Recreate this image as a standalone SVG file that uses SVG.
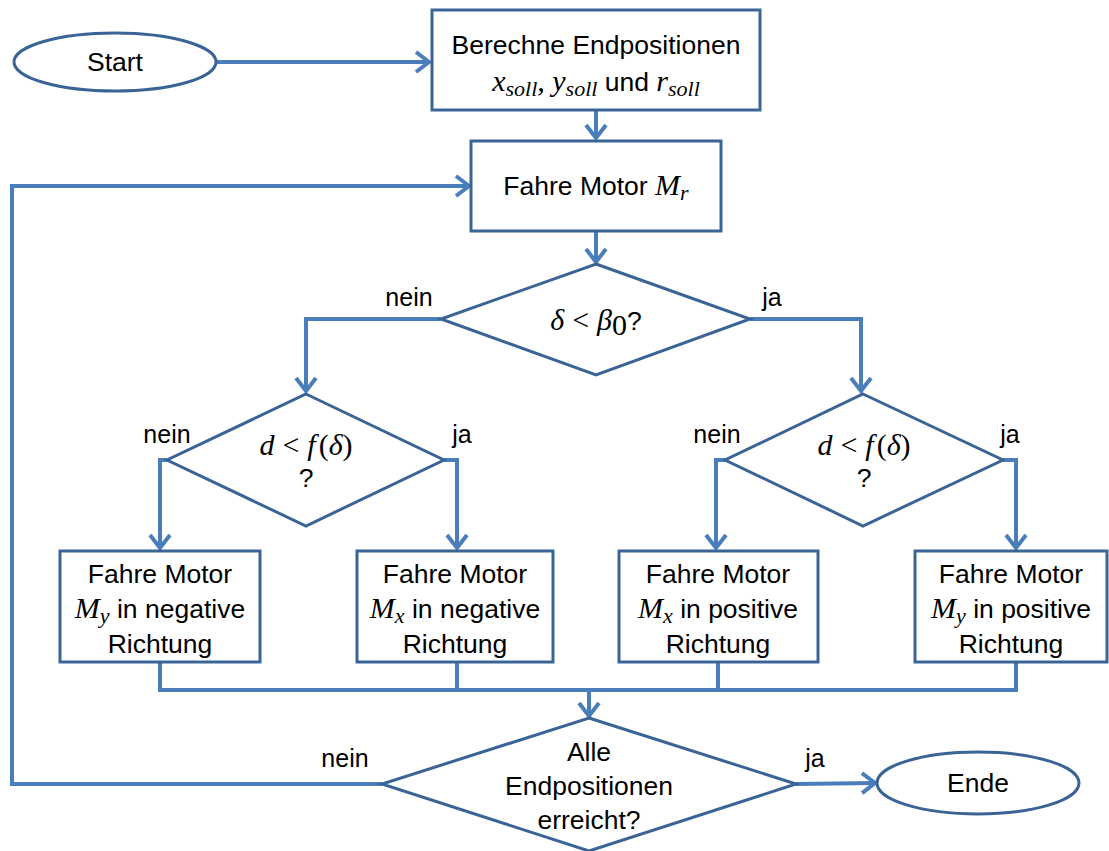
<svg xmlns="http://www.w3.org/2000/svg" width="1109" height="851" viewBox="0 0 1109 851">
<style>
.shape{fill:#fff;stroke:#3B6496;stroke-width:3}
.conn{fill:none;stroke:#4A7EBB;stroke-width:4}
.arr{marker-end:url(#ah)}
.t{font-family:"Liberation Sans",Arial,sans-serif;font-size:26.5px;fill:#000}
.lbl{font-family:"Liberation Sans",Arial,sans-serif;font-size:25px;fill:#000}
.m{font-family:"Liberation Serif","DejaVu Serif",serif;font-style:italic;font-size:30px}
.s{font-family:"Liberation Serif","DejaVu Serif",serif;font-style:italic;font-size:22px}
.n{font-family:"Liberation Serif","DejaVu Serif",serif;font-style:normal;font-size:30px}
</style>
<defs>
<marker id="ah" markerUnits="userSpaceOnUse" markerWidth="30" markerHeight="30" viewBox="-15 -15 30 30" refX="0" refY="0" orient="auto">
<path d="M-13,-10 L0,0 L-13,10" fill="none" stroke="#4A7EBB" stroke-width="4" stroke-linejoin="miter"/>
</marker>
</defs>

<g id="connectors">
<path class="conn arr" d="M216,62 H429"/>
<path class="conn arr" d="M596,110 V138"/>
<path class="conn arr" d="M596,231 V262"/>
<path class="conn arr" d="M441,319 H306 V391"/>
<path class="conn arr" d="M750,319 H861 V391"/>
<path class="conn arr" d="M167,460 H160 V548"/>
<path class="conn arr" d="M444,460 H457 V548"/>
<path class="conn arr" d="M725,460 H716 V548"/>
<path class="conn arr" d="M1003,460 H1016 V548"/>
<path class="conn" d="M160,662 V690 M457,662 V690 M718,662 V690 M1016,662 V690 M158,690 H1018"/>
<path class="conn arr" d="M589,690 V716"/>
<path class="conn arr" d="M796,784 L875,783"/>
<path class="conn arr" d="M382,784 H12 V186 H469"/>
</g>

<g id="start">
<ellipse class="shape" cx="115" cy="62" rx="101" ry="29"/>
<text class="t" x="115" y="71" text-anchor="middle">Start</text>
</g>

<g id="berechne">
<rect class="shape" x="432" y="10" width="328" height="100"/>
<text class="t" x="596" y="54" text-anchor="middle">Berechne Endpositionen</text>
<text class="t" x="596" y="91" text-anchor="middle"><tspan class="m">x</tspan><tspan class="s" dy="5">soll</tspan><tspan class="m" dy="-5">, y</tspan><tspan class="s" dy="5">soll</tspan><tspan dy="-5"> und </tspan><tspan class="m">r</tspan><tspan class="s" dy="5">soll</tspan></text>
</g>

<g id="fahre-mr">
<rect class="shape" x="471" y="141" width="250" height="90"/>
<text class="t" x="596" y="195" text-anchor="middle">Fahre Motor <tspan class="m">M</tspan><tspan class="s" dy="5">r</tspan></text>
</g>

<g id="d1">
<polygon class="shape" points="596,264 750,319 596,375 441,319"/>
<text class="t" x="596" y="330" text-anchor="middle"><tspan class="m">δ</tspan><tspan class="n" dx="8">&lt;</tspan><tspan class="m" dx="8">β</tspan><tspan class="n" font-size="21" dy="5">0</tspan><tspan dy="-5">?</tspan></text>
<text class="lbl" x="409" y="306" text-anchor="middle">nein</text>
<text class="lbl" x="772" y="306" text-anchor="middle">ja</text>
</g>

<g id="d2">
<polygon class="shape" points="306,394 444,460 306,526 167,460"/>
<text class="t" x="306" y="455" text-anchor="middle"><tspan class="m">d</tspan><tspan class="n" dx="8">&lt;</tspan><tspan class="m" dx="8">f</tspan><tspan class="n" dx="3">(</tspan><tspan class="m">δ</tspan><tspan class="n">)</tspan></text>
<text class="t" x="306" y="487" text-anchor="middle">?</text>
<text class="lbl" x="167" y="443" text-anchor="middle">nein</text>
<text class="lbl" x="462" y="443" text-anchor="middle">ja</text>
</g>

<g id="d3">
<polygon class="shape" points="863,394 1003,460 863,526 725,460"/>
<text class="t" x="864" y="455" text-anchor="middle"><tspan class="m">d</tspan><tspan class="n" dx="8">&lt;</tspan><tspan class="m" dx="8">f</tspan><tspan class="n" dx="3">(</tspan><tspan class="m">δ</tspan><tspan class="n">)</tspan></text>
<text class="t" x="864" y="487" text-anchor="middle">?</text>
<text class="lbl" x="717" y="443" text-anchor="middle">nein</text>
<text class="lbl" x="1010" y="443" text-anchor="middle">ja</text>
</g>

<g id="box-my-neg">
<rect class="shape" x="60" y="551" width="200" height="111"/>
<text class="t" x="160" y="583" text-anchor="middle">Fahre Motor</text>
<text class="t" x="160" y="618" text-anchor="middle"><tspan class="m">M</tspan><tspan class="s" dy="5">y</tspan><tspan dy="-5"> in negative</tspan></text>
<text class="t" x="160" y="653" text-anchor="middle">Richtung</text>
</g>

<g id="box-mx-neg">
<rect class="shape" x="357" y="551" width="196" height="111"/>
<text class="t" x="455" y="583" text-anchor="middle">Fahre Motor</text>
<text class="t" x="455" y="618" text-anchor="middle"><tspan class="m">M</tspan><tspan class="s" dy="5">x</tspan><tspan dy="-5"> in negative</tspan></text>
<text class="t" x="455" y="653" text-anchor="middle">Richtung</text>
</g>

<g id="box-mx-pos">
<rect class="shape" x="619" y="551" width="199" height="111"/>
<text class="t" x="718" y="583" text-anchor="middle">Fahre Motor</text>
<text class="t" x="718" y="618" text-anchor="middle"><tspan class="m">M</tspan><tspan class="s" dy="5">x</tspan><tspan dy="-5"> in positive</tspan></text>
<text class="t" x="718" y="653" text-anchor="middle">Richtung</text>
</g>

<g id="box-my-pos">
<rect class="shape" x="915" y="551" width="192" height="111"/>
<text class="t" x="1011" y="583" text-anchor="middle">Fahre Motor</text>
<text class="t" x="1011" y="618" text-anchor="middle"><tspan class="m">M</tspan><tspan class="s" dy="5">y</tspan><tspan dy="-5"> in positive</tspan></text>
<text class="t" x="1011" y="653" text-anchor="middle">Richtung</text>
</g>

<g id="d4">
<polygon class="shape" points="589,718 796,784 589,851 382,784"/>
<text class="t" x="589" y="761" text-anchor="middle">Alle</text>
<text class="t" x="589" y="795" text-anchor="middle">Endpositionen</text>
<text class="t" x="589" y="829" text-anchor="middle">erreicht?</text>
<text class="lbl" x="345" y="767" text-anchor="middle">nein</text>
<text class="lbl" x="815" y="767" text-anchor="middle">ja</text>
</g>

<g id="ende">
<ellipse class="shape" cx="978" cy="783" rx="101" ry="31"/>
<text class="t" x="978" y="792" text-anchor="middle">Ende</text>
</g>
</svg>
